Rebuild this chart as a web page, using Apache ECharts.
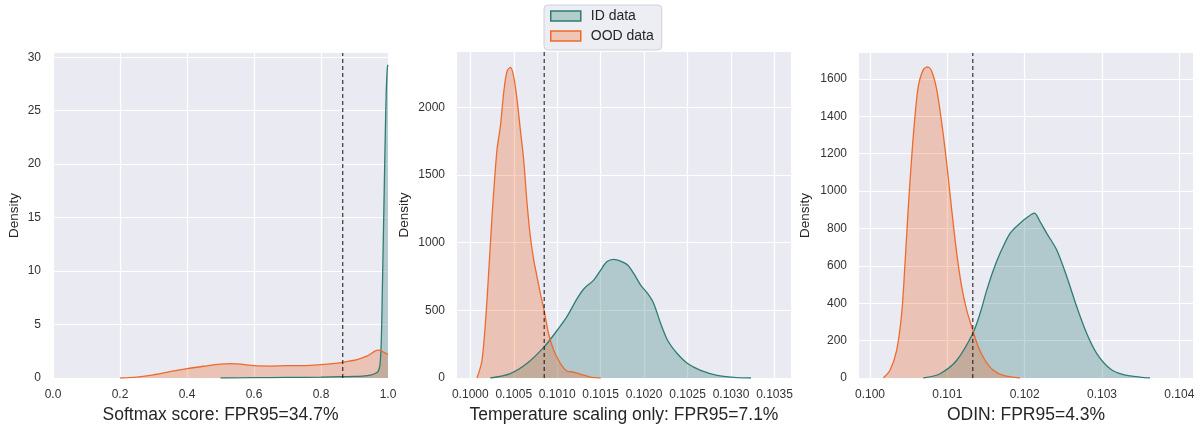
<!DOCTYPE html>
<html>
<head>
<meta charset="utf-8">
<script src="https://cdn.jsdelivr.net/npm/echarts@6/dist/echarts.min.js"></script>
<style>
  html, body { margin: 0; padding: 0; background: #fff; }
  #chart { width: 1200px; height: 430px; }
</style>
</head>
<body>
<div id="chart"></div>
<script>
// ---- data ----
const panelTitles = ['Softmax score: FPR95=34.7%', 'Temperature scaling only: FPR95=7.1%', 'ODIN: FPR95=4.3%']
const thresholds = [0.865, 0.10085, 0.10133]

const softmaxXTicks = [0, 0.2, 0.4, 0.6, 0.8, 1.0]
const softmaxYTicks = [0, 5, 10, 15, 20, 25, 30]
const tempXTicks = [0.1000, 0.1005, 0.1010, 0.1015, 0.1020, 0.1025, 0.1030, 0.1035]
const tempYTicks = [0, 500, 1000, 1500, 2000]
const odinXTicks = [0.100, 0.101, 0.102, 0.103, 0.104]
const odinYTicks = [0, 200, 400, 600, 800, 1000, 1200, 1400, 1600]

// softmax panel
const softmaxIdX = [0.50, 0.60, 0.70, 0.80, 0.86, 0.90, 0.93, 0.95, 0.96, 0.97, 0.976, 0.980, 0.983, 0.986, 0.989, 0.992, 0.995, 0.998, 1.0]
const softmaxIdY = [0, 0.03, 0.05, 0.08, 0.12, 0.15, 0.2, 0.3, 0.4, 0.6, 1.2, 3.5, 8, 13, 18, 23, 27, 29, 29.3]
const softmaxOodX = [0.20, 0.22, 0.25, 0.30, 0.35, 0.40, 0.45, 0.50, 0.53, 0.56, 0.60, 0.65, 0.70, 0.75, 0.80, 0.85, 0.88, 0.91, 0.94, 0.97, 0.985, 1.0]
const softmaxOodY = [0, 0.02, 0.08, 0.3, 0.6, 0.88, 1.1, 1.3, 1.35, 1.3, 1.15, 1.12, 1.15, 1.15, 1.25, 1.4, 1.55, 1.75, 2.1, 2.6, 2.45, 2.2]

// temperature scaling panel
const tempIdX = [0.10023, 0.10046, 0.10065, 0.10085, 0.1010, 0.10111, 0.10123, 0.10131, 0.10142, 0.1015, 0.10157, 0.10165, 0.10173, 0.10181, 0.10188, 0.10196, 0.10204, 0.10211, 0.10219, 0.10227, 0.10238, 0.1025, 0.10265, 0.10284, 0.10303, 0.10323]
const tempIdY = [0, 33, 107, 230, 353, 452, 588, 662, 724, 798, 859, 877, 864, 835, 773, 687, 625, 551, 403, 279, 181, 107, 57, 20, 5, 0]
const tempOodX = [0.100077, 0.100135, 0.100192, 0.10025, 0.100307, 0.100346, 0.100384, 0.100422, 0.100461, 0.100499, 0.100538, 0.100576, 0.100614, 0.100653, 0.100691, 0.10073, 0.100768, 0.100806, 0.100849, 0.1009, 0.10096, 0.101037, 0.10111, 0.10119, 0.10127, 0.10138, 0.1015]
const tempOodY = [0, 131, 575, 1193, 1687, 1859, 2107, 2267, 2296, 2230, 2057, 1835, 1613, 1292, 1044, 872, 748, 625, 501, 329, 205, 107, 52, 44, 27, 7, 0]

// ODIN panel
const odinIdX = [0.10069, 0.100906, 0.101122, 0.101329, 0.101423, 0.10151, 0.101595, 0.101682, 0.101811, 0.10194, 0.102048, 0.102126, 0.102199, 0.102286, 0.102415, 0.102545, 0.102674, 0.102803, 0.102933, 0.103105, 0.103277, 0.10349, 0.10362]
const odinIdY = [0, 23, 95, 238, 345, 470, 577, 667, 774, 828, 864, 882, 837, 774, 685, 542, 381, 238, 131, 50, 18, 5, 0]
const odinOodX = [0.100172, 0.100259, 0.100345, 0.10041, 0.100453, 0.100496, 0.10054, 0.100582, 0.100625, 0.10069, 0.100746, 0.100798, 0.100863, 0.100928, 0.100992, 0.101057, 0.101122, 0.101186, 0.101251, 0.101329, 0.101401, 0.101488, 0.101595, 0.101725, 0.10194]
const odinOodY = [0, 41, 148, 345, 613, 917, 1185, 1400, 1561, 1650, 1665, 1641, 1543, 1364, 1150, 899, 667, 488, 363, 256, 166, 95, 41, 14, 0]

const zip = (xs, ys) => xs.map((x, i) => [x, ys[i]])

const idColor = '#2e7d74'
const oodColor = '#ee6a2c'
const font = 'Liberation Sans, Arial, sans-serif'

const panels = [
  { left: 53, top: 53, width: 335, height: 325, xMin: 0, xMax: 1, yMax: 30.4, xTicks: softmaxXTicks, yTicks: softmaxYTicks, digits: 1, yGap: 32,
    id: zip(softmaxIdX, softmaxIdY), ood: zip(softmaxOodX, softmaxOodY) },
  { left: 457, top: 52, width: 334, height: 326, xMin: 0.099847, xMax: 0.10369, yMax: 2410, xTicks: tempXTicks, yTicks: tempYTicks, digits: 4, yGap: 46,
    id: zip(tempIdX, tempIdY), ood: zip(tempOodX, tempOodY) },
  { left: 859, top: 53, width: 334, height: 325, xMin: 0.099858, xMax: 0.104177, yMax: 1739, xTicks: odinXTicks, yTicks: odinYTicks, digits: 3, yGap: 47,
    id: zip(odinIdX, odinIdY), ood: zip(odinOodX, odinOodY) }
]

const chart = echarts.init(document.getElementById('chart'))

const grid = []
const xAxis = []
const yAxis = []
const series = []

panels.forEach((p, i) => {
  grid.push({
    left: p.left, top: p.top, width: p.width, height: p.height,
    show: true, backgroundColor: '#eaeaf2', borderWidth: 0
  })
  xAxis.push({
    type: 'value', gridIndex: i, min: p.xMin, max: p.xMax,
    name: panelTitles[i], nameLocation: 'middle', nameGap: 24,
    nameTextStyle: { fontSize: 17.5, color: '#262626', fontFamily: font },
    axisLine: { show: false },
    axisTick: { show: false, customValues: p.xTicks },
    axisLabel: {
      customValues: p.xTicks, margin: 11, fontSize: 12, color: '#333', fontFamily: font,
      formatter: v => v.toFixed(p.digits)
    },
    splitLine: { show: true, lineStyle: { color: '#fff', width: 1.2 } }
  })
  yAxis.push({
    type: 'value', gridIndex: i, min: 0, max: p.yMax,
    name: 'Density', nameLocation: 'middle', nameGap: p.yGap,
    nameTextStyle: { fontSize: 13.5, color: '#262626', fontFamily: font },
    axisLine: { show: false },
    axisTick: { show: false, customValues: p.yTicks },
    axisLabel: {
      customValues: p.yTicks, margin: 12, fontSize: 12, color: '#333', fontFamily: font,
      formatter: v => String(v)
    },
    splitLine: { show: true, lineStyle: { color: '#fff', width: 1.2 } }
  })
  series.push({
    name: 'ID data', type: 'line', xAxisIndex: i, yAxisIndex: i,
    data: p.id, smooth: 0.3, showSymbol: false,
    lineStyle: { color: idColor, width: 1.3 },
    itemStyle: { color: idColor },
    areaStyle: { color: idColor, opacity: 0.3 }
  })
  series.push({
    name: 'OOD data', type: 'line', xAxisIndex: i, yAxisIndex: i,
    data: p.ood, smooth: 0.3, showSymbol: false,
    lineStyle: { color: oodColor, width: 1.3 },
    itemStyle: { color: oodColor },
    areaStyle: { color: oodColor, opacity: 0.3 }
  })
  // dashed threshold line
  series.push({
    name: 'threshold', type: 'line', xAxisIndex: i, yAxisIndex: i,
    data: [[thresholds[i], 0], [thresholds[i], p.yMax]],
    showSymbol: false, silent: true, z: 5,
    lineStyle: { color: '#111', type: [4, 3], width: 1 }
  })
})

const option = {
  animation: false,
  textStyle: { fontFamily: font },
  legend: {
    orient: 'vertical', left: 544, top: 5,
    backgroundColor: 'rgba(234,234,242,0.85)', borderColor: '#d0d0d8', borderWidth: 1, borderRadius: 4,
    padding: [4, 8, 7, 6], itemGap: 6, itemWidth: 30, itemHeight: 10,
    icon: 'rect',
    textStyle: { fontSize: 14, color: '#262626', padding: [0, 0, 0, 5] },
    data: [
      { name: 'ID data', itemStyle: { color: '#b3cdc9', borderColor: idColor, borderWidth: 1.5 } },
      { name: 'OOD data', itemStyle: { color: '#efc6b6', borderColor: oodColor, borderWidth: 1.5 } }
    ]
  },
  grid: grid,
  xAxis: xAxis,
  yAxis: yAxis,
  series: series
}

chart.setOption(option)
</script>
</body>
</html>
